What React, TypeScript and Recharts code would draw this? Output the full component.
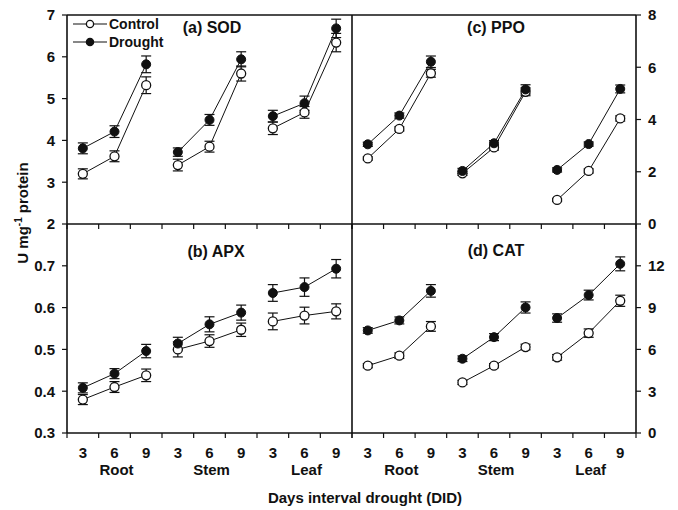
import React from "react";
import { LineChart, Line, XAxis, YAxis, ErrorBar } from "recharts";

const days = [3, 6, 9];
const organs = ["Root", "Stem", "Leaf"];
const seriesNames = ["Control", "Drought"];

// (a) SOD
const sodControl = [3.2, 3.62, 5.32, 3.41, 3.85, 5.6, 4.29, 4.67, 6.34];
const sodDrought = [3.81, 4.21, 5.82, 3.72, 4.49, 5.94, 4.58, 4.89, 6.68];
const sodControlErr = [0.12, 0.13, 0.2, 0.14, 0.13, 0.18, 0.15, 0.14, 0.22];
const sodDroughtErr = [0.13, 0.14, 0.2, 0.1, 0.13, 0.18, 0.14, 0.17, 0.22];

// (b) APX
const apxControl = [0.38, 0.41, 0.438, 0.5, 0.52, 0.547, 0.567, 0.581, 0.591];
const apxDrought = [0.408, 0.442, 0.496, 0.514, 0.56, 0.588, 0.635, 0.649, 0.693];
const apxControlErr = [0.012, 0.013, 0.015, 0.018, 0.015, 0.016, 0.02, 0.02, 0.018];
const apxDroughtErr = [0.012, 0.012, 0.016, 0.015, 0.018, 0.018, 0.02, 0.022, 0.022];

// (c) PPO
const ppoControl = [2.51, 3.64, 5.77, 1.94, 2.93, 5.06, 0.92, 2.03, 4.04];
const ppoDrought = [3.05, 4.15, 6.21, 2.03, 3.09, 5.15, 2.07, 3.06, 5.17];
const ppoControlErr = [0.06, 0.08, 0.15, 0.08, 0.1, 0.15, 0.06, 0.08, 0.1];
const ppoDroughtErr = [0.08, 0.1, 0.22, 0.1, 0.1, 0.18, 0.08, 0.08, 0.15];

// (d) CAT
const catControl = [4.83, 5.55, 7.65, 3.63, 4.83, 6.17, 5.43, 7.17, 9.49];
const catDrought = [7.36, 8.08, 10.2, 5.33, 6.88, 9.01, 8.25, 9.9, 12.14];
const catControlErr = [0.15, 0.2, 0.35, 0.15, 0.15, 0.2, 0.2, 0.3, 0.4];
const catDroughtErr = [0.2, 0.25, 0.45, 0.2, 0.25, 0.4, 0.3, 0.35, 0.5];

const sodTicks = [2, 3, 4, 5, 6, 7];
const apxTicks = [0.3, 0.4, 0.5, 0.6, 0.7];
const ppoTicks = [0, 2, 4, 6, 8];
const catTicks = [0, 3, 6, 9, 12];

const slotEdges = [0, 1, 2, 3, 4, 5, 6, 7, 8, 9];
const slotCenters = [0.5, 1.5, 2.5, 3.5, 4.5, 5.5, 6.5, 7.5, 8.5];

const W = 678;
const H = 510;
const FONT = "'Liberation Sans', Arial, Helvetica, sans-serif";
const INK = "#111";

function buildRows(control: number[], drought: number[], ce: number[], de: number[]) {
  return control.map((_, i) => {
    const g = Math.floor(i / 3);
    return {
      x: i + 0.5,
      ["c" + g]: control[i],
      ["d" + g]: drought[i],
      ["ce" + g]: ce[i],
      ["de" + g]: de[i],
    };
  });
}

function DayTick(props: any) {
  const { x, payload } = props;
  const i = Math.floor(payload.value);
  const style = { fontFamily: FONT, fontWeight: 700, fontSize: 15, fill: INK };
  return (
    <g>
      <text x={x} y={458} textAnchor="middle" style={style}>
        {days[i % 3]}
      </text>
      {i % 3 === 1 && (
        <text x={x + 2} y={475} textAnchor="middle" style={style}>
          {organs[Math.floor(i / 3)]}
        </text>
      )}
    </g>
  );
}

const NoLabel = () => <g />;

const axisLine = { stroke: INK, strokeWidth: 1.6 };
const tickLine = { stroke: INK, strokeWidth: 1.2 };
const tickText = { fontFamily: FONT, fontWeight: 700, fontSize: 15, fill: INK };

interface PanelProps {
  data: any[];
  domain: [number, number];
  ticks: number[];
  side: "left" | "right";
  top: boolean;
}

function Panel({ data, domain, ticks, side, top }: PanelProps) {
  const margin = {
    top: top ? 14 : 224,
    bottom: top ? 285 : 75,
    left: side === "left" ? 0 : 351,
    right: side === "left" ? 326 : 0,
  };
  return (
    <div style={{ position: "absolute", left: 0, top: 0 }}>
      <LineChart width={W} height={H} data={data} margin={margin}>
        <XAxis
          dataKey="x"
          type="number"
          domain={[0, 9]}
          ticks={slotEdges}
          interval={0}
          height={1}
          tick={<NoLabel />}
          tickSize={5}
          axisLine={axisLine}
          tickLine={tickLine}
        />
        {top ? (
          <XAxis
            xAxisId="frame"
            orientation="top"
            type="number"
            domain={[0, 9]}
            height={1}
            tick={false}
            tickLine={false}
            axisLine={axisLine}
          />
        ) : (
          <XAxis
            xAxisId="frame"
            dataKey="x"
            type="number"
            domain={[0, 9]}
            ticks={slotCenters}
            interval={0}
            height={1}
            tickSize={0}
            tickMargin={0}
            axisLine={false}
            tickLine={false}
            tick={<DayTick />}
          />
        )}
        <YAxis
          type="number"
          domain={domain}
          ticks={ticks}
          interval={0}
          orientation={side}
          width={side === "left" ? 67 : 42}
          tickSize={5}
          tickMargin={7}
          axisLine={axisLine}
          tickLine={tickLine}
          tick={tickText}
          allowDataOverflow
        />
        {side === "right" && (
          <YAxis
            yAxisId="frame"
            orientation="left"
            width={1}
            domain={[0, 1]}
            tick={false}
            tickLine={false}
            axisLine={axisLine}
          />
        )}
        {[0, 1, 2].map((g) => (
          <Line
            key={"c" + g}
            dataKey={"c" + g}
            name={seriesNames[0]}
            type="linear"
            stroke={INK}
            strokeWidth={1}
            dot={{ r: 4.5, fill: "#fff", stroke: INK, strokeWidth: 1.3 }}
            activeDot={false}
            isAnimationActive={false}
          >
            <ErrorBar dataKey={"ce" + g} width={5} stroke={INK} strokeWidth={1.2} />
          </Line>
        ))}
        {[0, 1, 2].map((g) => (
          <Line
            key={"d" + g}
            dataKey={"d" + g}
            name={seriesNames[1]}
            type="linear"
            stroke={INK}
            strokeWidth={1}
            dot={{ r: 4.5, fill: INK, stroke: INK, strokeWidth: 1 }}
            activeDot={false}
            isAnimationActive={false}
          >
            <ErrorBar dataKey={"de" + g} width={5} stroke={INK} strokeWidth={1.2} />
          </Line>
        ))}
      </LineChart>
    </div>
  );
}

const titleStyle = { fontFamily: FONT, fontWeight: 700, fontSize: 16, fill: INK };
const labelStyle = { fontFamily: FONT, fontWeight: 700, fontSize: 15, fill: INK };

export default function App() {
  return (
    <div style={{ position: "absolute", left: 0, top: 0, width: W, height: H, background: "#fff" }}>
      <Panel data={buildRows(sodControl, sodDrought, sodControlErr, sodDroughtErr)} domain={[2, 7]} ticks={sodTicks} side="left" top />
      <Panel data={buildRows(apxControl, apxDrought, apxControlErr, apxDroughtErr)} domain={[0.3, 0.8]} ticks={apxTicks} side="left" top={false} />
      <Panel data={buildRows(ppoControl, ppoDrought, ppoControlErr, ppoDroughtErr)} domain={[0, 8]} ticks={ppoTicks} side="right" top />
      <Panel data={buildRows(catControl, catDrought, catControlErr, catDroughtErr)} domain={[0, 15]} ticks={catTicks} side="right" top={false} />
      <svg width={W} height={H} style={{ position: "absolute", left: 0, top: 0, pointerEvents: "none" }}>
        <text x={212} y={33} textAnchor="middle" style={titleStyle}>(a) SOD</text>
        <text x={496} y={33} textAnchor="middle" style={titleStyle}>(c) PPO</text>
        <text x={216} y={257} textAnchor="middle" style={titleStyle}>(b) APX</text>
        <text x={496} y={256} textAnchor="middle" style={titleStyle}>(d) CAT</text>
        <text x={365} y={503} textAnchor="middle" style={labelStyle}>Days interval drought (DID)</text>
        <text x={28} y={213} textAnchor="middle" transform="rotate(-90 28 213)" style={labelStyle}>
          U mg<tspan fontSize={10} dy={-6}>-1</tspan>
          <tspan dy={6}> protein</tspan>
        </text>
        {seriesNames.map((name, i) => {
          const cy = 24 + i * 18;
          return (
            <g key={name}>
              <line x1={73} x2={107} y1={cy} y2={cy} stroke={INK} strokeWidth={1.2} />
              <circle cx={90} cy={cy} r={3.6} fill={i === 0 ? "#fff" : INK} stroke={INK} strokeWidth={1.3} />
              <text x={109} y={cy + 5} style={{ ...labelStyle, fontSize: 14 }}>{name}</text>
            </g>
          );
        })}
      </svg>
    </div>
  );
}
